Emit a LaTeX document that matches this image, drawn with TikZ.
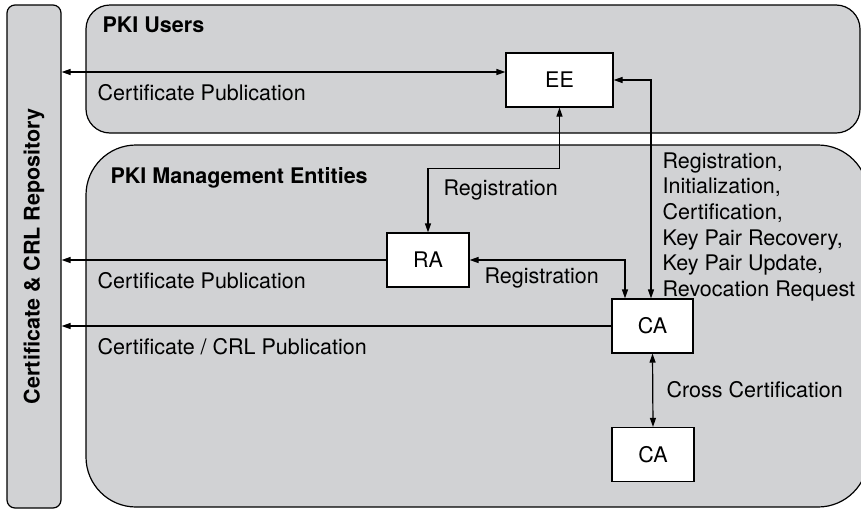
\documentclass[tikz,border=0pt]{standalone}
\usepackage{fontspec}
\setmainfont{TeX Gyre Heros}
\usepackage{tikz}
\usetikzlibrary{
  arrows.meta}
\definecolor{panel}{RGB}{209,210,212}

\begin{document}
\begin{tikzpicture}[x=1pt,y=-1pt,line width=1.2pt,
  every node/.style={font=\fontsize{21.5}{25.6}\selectfont},
  group/.style={draw,fill=panel},
  entity/.style={draw,fill=white,minimum height=54pt},
  both/.style={{Triangle[length=9pt,width=6pt]}-{Triangle[length=9pt,width=6pt]}},
  pub/.style={-{Triangle[length=9pt,width=6pt]}},
  lbl/.style={inner sep=0pt,anchor=base west}]
\clip (0,0) rectangle (861,509);
% the two panels
\draw[group,rounded corners=24] (86,5) rectangle (860,133);
\draw[group,rounded corners=50] (86,145) rectangle (868,507);
\node[lbl,font=\fontsize{21.5}{25.6}\selectfont\bfseries] at (102,32) {PKI Users};
\node[lbl,font=\fontsize{21.5}{25.6}\selectfont\bfseries] at (110,183) {PKI Management Entities};
% repository column
\node[group,rounded corners=8,minimum width=54pt,minimum height=503pt] (repo) at (34,256.5) {};
\node[rotate=90,font=\fontsize{21.5}{25.6}\selectfont\bfseries] at (repo) {Certificate \& CRL Repository};
% entities
\node[entity,minimum width=107pt] (ee) at (559.5,80) {EE};
\node[entity,minimum width=82pt] (ra) at (428,260) {RA};
\node[entity,minimum width=81pt] (ca) at (652.5,326) {CA};
\node[entity,minimum width=82pt] (xca) at (653,454.5) {CA};
% publication lines
\coordinate (eepub) at ([yshift=8pt]ee.west);
\draw[both] (eepub) -- (eepub -| repo.east);
\draw[pub] (ra.west) -- (ra.west -| repo.east);
\draw[pub] (ca.west) -- (ca.west -| repo.east);
\node[lbl] at (97,100) {Certificate Publication};
\node[lbl] at (97,288) {Certificate Publication};
\node[lbl] at (97,354) {Certificate / CRL Publication};
% management protocols
\draw[both] (ee.south) -- ++(0,61) -| (ra.north);
\node[lbl] at (443,195) {Registration};
\draw[both] (ra.east) -| ([xshift=-27.5pt]ca.north);
\node[lbl] at (484,283) {Registration};
\draw[both] (ee.east) -| ([xshift=-1.5pt]ca.north);
\node[inner sep=0pt,anchor=north west,align=left] at (662,152)
  {Registration,\\Initialization,\\Certification,\\Key Pair Recovery,\\Key Pair Update,\\Revocation Request};
\draw[both] (ca.south) -- (xca.north);
\node[lbl] at (666,397) {Cross Certification};
\end{tikzpicture}
\end{document}
